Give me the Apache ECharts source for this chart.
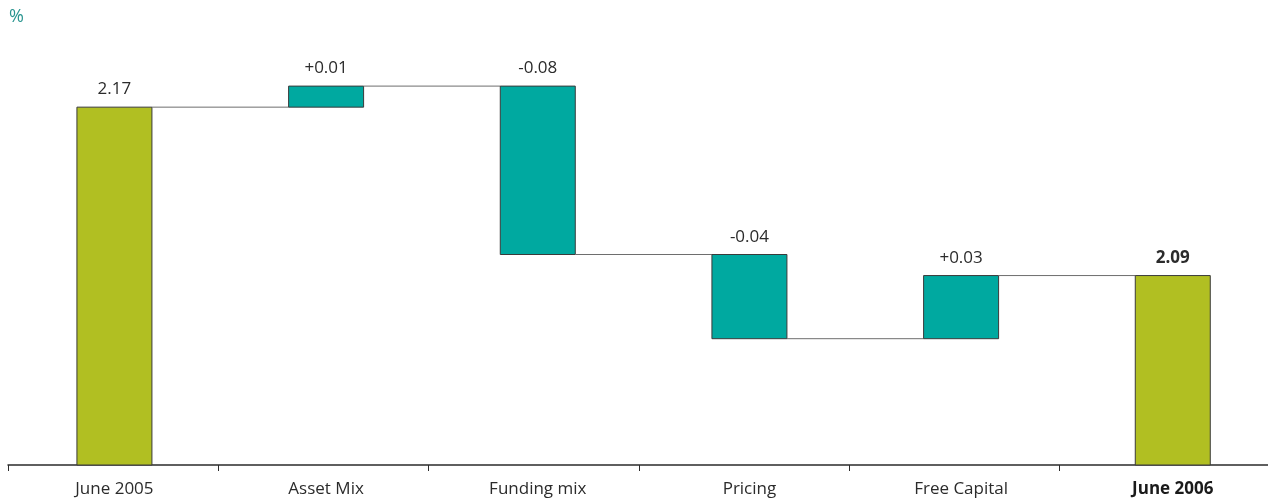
<!DOCTYPE html>
<html>
<head>
<meta charset="utf-8">
<script src="https://cdn.jsdelivr.net/npm/echarts@6/dist/echarts.min.js"></script>
<style>
  html, body { margin: 0; padding: 0; background: #fff; overflow: hidden; }
  #chart { width: 1290px; height: 500px; }
</style>
</head>
<body>
<div id="chart"></div>
<script>
// Net interest margin bridge, June 2005 to June 2006 (%)
const categories = ['June 2005', 'Asset Mix', 'Funding mix', 'Pricing', 'Free Capital', 'June 2006'];
const amounts = [2.17, 0.01, -0.08, -0.04, 0.03, 2.09];
const kinds = ['total', 'delta', 'delta', 'delta', 'delta', 'total'];
const valueLabels = ['2.17', '+0.01', '-0.08', '-0.04', '+0.03', '2.09'];

const OLIVE = '#b1bf22';
const TEAL = '#00a9a0';
const FONT = '"Open Sans", "Noto Sans", sans-serif';

// Build floating segments: [index, low, high, levelAfter]
let level = 0;
const segments = amounts.map((v, i) => {
  let low, high;
  if (kinds[i] === 'total') {
    low = 2.0; high = v; level = v;
  } else {
    const next = level + v;
    low = Math.min(level, next); high = Math.max(level, next); level = next;
  }
  return [i, low, high, level];
});

const BAR_W = 75;

function renderItem(params, api) {
  const i = api.value(0);
  const low = api.value(1);
  const high = api.value(2);
  const after = api.value(3);
  const top = api.coord([i, high]);
  const bottom = api.coord([i, low]);
  const band = api.size([1, 0])[0];
  const x = top[0] - BAR_W / 2;
  const children = [{
    type: 'rect',
    shape: { x: x, y: top[1], width: BAR_W, height: bottom[1] - top[1] },
    style: { fill: kinds[i] === 'total' ? OLIVE : TEAL, stroke: '#3a3a3a', lineWidth: 1 }
  }, {
    type: 'text',
    style: {
      x: top[0], y: top[1] - 9,
      text: valueLabels[i],
      fill: '#2b2b2b',
      font: (i === categories.length - 1 ? 'bold ' : '') + '17px ' + FONT,
      align: 'center', verticalAlign: 'bottom'
    }
  }];
  if (i < categories.length - 1) {
    const y = api.coord([i, after])[1];
    children.push({
      type: 'line',
      shape: { x1: x + BAR_W, y1: y, x2: x + band, y2: y },
      style: { stroke: '#6e6e6e', lineWidth: 1 }
    });
  }
  return { type: 'group', children: children };
}

const chart = echarts.init(document.getElementById('chart'));
chart.setOption({
  animation: false,
  backgroundColor: '#fff',
  graphic: [{
    type: 'text', left: 9, top: 8,
    style: { text: '%', fill: '#2a9590', font: '18px ' + FONT }
  }],
  grid: [
    // baseline with boundary ticks
    { left: 8, width: 1262, top: 44, bottom: 35, containLabel: false },
    // bars and category labels
    { left: 8.6, width: 1270, top: 44, bottom: 35, containLabel: false }
  ],
  xAxis: [{
    type: 'category',
    gridIndex: 0,
    data: categories,
    axisLine: { lineStyle: { color: '#2b2b2b', width: 1.5 } },
    axisTick: { show: true, length: 6, lineStyle: { color: '#2b2b2b', width: 1 } },
    axisLabel: { show: false }
  }, {
    type: 'category',
    gridIndex: 1,
    data: categories,
    axisLine: { show: false },
    axisTick: { show: false },
    axisLabel: {
      margin: 16,
      color: '#2b2b2b',
      fontSize: 17,
      fontFamily: FONT,
      formatter: function (v, idx) {
        return idx === categories.length - 1 ? '{b|' + v + '}' : v;
      },
      rich: { b: { fontWeight: 'bold', fontSize: 17, fontFamily: FONT, color: '#1a1a1a' } }
    }
  }],
  yAxis: [
    { type: 'value', gridIndex: 0, min: 2.0, max: 2.2, show: false, splitLine: { show: false } },
    { type: 'value', gridIndex: 1, min: 2.0, max: 2.2, show: false, splitLine: { show: false } }
  ],
  series: [{
    type: 'custom',
    xAxisIndex: 1,
    yAxisIndex: 1,
    renderItem: renderItem,
    encode: { x: 0, y: [1, 2] },
    data: segments,
    clip: false
  }]
});
</script>
</body>
</html>
